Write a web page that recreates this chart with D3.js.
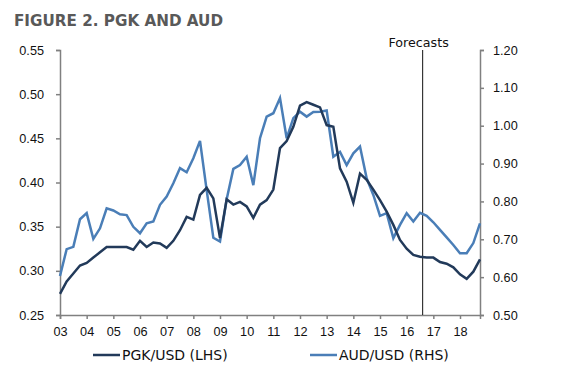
<!DOCTYPE html>
<html>
<head>
<meta charset="utf-8">
<script src="https://cdn.jsdelivr.net/npm/d3@7"></script>
<style>
  body { margin: 0; background: #fff; }
  svg { font-family: "DejaVu Sans", Verdana, sans-serif; }
  .axis path, .axis line { stroke: #808080; stroke-width: 1.5; }
  .axis text { fill: #111; font-size: 12.7px; }
</style>
</head>
<body>
<div id="chart"></div>
<script>
// quarterly data, 2003Q1 .. 2018Q4
var years = [2003, 2004, 2005, 2006, 2007, 2008, 2009, 2010, 2011, 2012, 2013, 2014, 2015, 2016, 2017, 2018];
var yearLabels = ["03", "04", "05", "06", "07", "08", "09", "10", "11", "12", "13", "14", "15", "16", "17", "18"];

var pgkUsd = [
  0.274, 0.288, 0.297, 0.306, 0.309, 0.315, 0.321, 0.327,
  0.327, 0.327, 0.327, 0.324, 0.334, 0.327, 0.332, 0.331,
  0.326, 0.334, 0.346, 0.361, 0.358, 0.386, 0.394, 0.382,
  0.337, 0.381, 0.375, 0.378, 0.373, 0.360, 0.375, 0.380,
  0.392, 0.439, 0.447, 0.463, 0.487, 0.491, 0.488, 0.485,
  0.465, 0.463, 0.416, 0.401, 0.377, 0.410, 0.403, 0.392,
  0.380, 0.367, 0.352, 0.335, 0.325, 0.318, 0.316, 0.315,
  0.315, 0.310, 0.308, 0.304, 0.296, 0.291, 0.299, 0.313
];
var audUsd = [
  0.603, 0.674, 0.680, 0.753, 0.769, 0.701, 0.729, 0.782,
  0.776, 0.766, 0.764, 0.733, 0.716, 0.742, 0.747, 0.791,
  0.813, 0.848, 0.888, 0.877, 0.914, 0.960, 0.830, 0.704,
  0.694, 0.806, 0.886, 0.896, 0.918, 0.843, 0.967, 1.024,
  1.033, 1.073, 0.967, 1.020, 1.037, 1.024, 1.036, 1.037,
  1.040, 0.918, 0.931, 0.896, 0.927, 0.945, 0.861, 0.817,
  0.762, 0.769, 0.703, 0.738, 0.769, 0.747, 0.770, 0.762,
  0.745, 0.725, 0.705, 0.685, 0.663, 0.663, 0.690, 0.742
];
var leftTicks = [0.25, 0.30, 0.35, 0.40, 0.45, 0.50, 0.55];
var rightTicks = [0.50, 0.60, 0.70, 0.80, 0.90, 1.00, 1.10, 1.20];
var forecastStart = 2016.6;

var W = 563, H = 372;
var margin = {top: 50, right: 83, bottom: 57, left: 60};

var quarters = [];
years.forEach(function (y) {
  for (var q = 0; q < 4; q++) quarters.push(y + q / 4);
});

var svg = d3.select("#chart").append("svg")
  .attr("width", W)
  .attr("height", H);

var x = d3.scaleLinear()
  .domain([years[0], quarters[quarters.length - 1]])
  .range([margin.left, W - margin.right]);
var yL = d3.scaleLinear()
  .domain([0.25, 0.55])
  .range([H - margin.bottom, margin.top]);
var yR = d3.scaleLinear()
  .domain([0.5, 1.2])
  .range([H - margin.bottom, margin.top]);

// title
svg.append("text")
  .attr("x", 14)
  .attr("y", 26)
  .attr("fill", "#595959")
  .style("font-size", "15.2px")
  .style("font-weight", "bold")
  .text("FIGURE 2. PGK AND AUD");

// axes
svg.append("g").attr("class", "axis")
  .attr("transform", "translate(" + margin.left + ",0)")
  .call(d3.axisLeft(yL).tickValues(leftTicks).tickFormat(d3.format(".2f")).tickSize(4).tickPadding(12));

svg.append("g").attr("class", "axis")
  .attr("transform", "translate(" + (W - margin.right) + ",0)")
  .call(d3.axisRight(yR).tickValues(rightTicks).tickFormat(d3.format(".2f")).tickSize(4).tickPadding(9));

svg.append("g").attr("class", "axis")
  .attr("transform", "translate(0," + (H - margin.bottom) + ")")
  .call(d3.axisBottom(x).tickValues(years).tickFormat(function (d, i) { return yearLabels[i]; }).tickSize(4).tickPadding(8));

// forecast marker
svg.append("line")
  .attr("x1", x(forecastStart)).attr("x2", x(forecastStart))
  .attr("y1", margin.top).attr("y2", H - margin.bottom)
  .attr("stroke", "#111")
  .attr("stroke-width", 1);

svg.append("text")
  .attr("x", x(forecastStart) - 4)
  .attr("y", 47)
  .attr("text-anchor", "middle")
  .attr("fill", "#111")
  .style("font-size", "12.7px")
  .text("Forecasts");

// lines
var pgkLine = d3.line()
  .x(function (d, i) { return x(quarters[i]); })
  .y(function (d) { return yL(d); });
var audLine = d3.line()
  .x(function (d, i) { return x(quarters[i]); })
  .y(function (d) { return yR(d); });

svg.append("path")
  .datum(audUsd)
  .attr("d", audLine)
  .attr("fill", "none")
  .attr("stroke", "#4a7eb7")
  .attr("stroke-width", 2.5);

svg.append("path")
  .datum(pgkUsd)
  .attr("d", pgkLine)
  .attr("fill", "none")
  .attr("stroke", "#223a5a")
  .attr("stroke-width", 2.5);

// legend
var legend = [
  {label: "PGK/USD (LHS)", color: "#223a5a", x: 93},
  {label: "AUD/USD (RHS)", color: "#4a7eb7", x: 310}
];
var lg = svg.selectAll(".lg").data(legend).enter().append("g")
  .attr("transform", function (d) { return "translate(" + d.x + ",355)"; });
lg.append("line")
  .attr("x1", 0).attr("x2", 27)
  .attr("stroke", function (d) { return d.color; })
  .attr("stroke-width", 2.5);
lg.append("text")
  .attr("x", 29)
  .attr("dy", "0.35em")
  .attr("fill", "#111")
  .style("font-size", "14px")
  .text(function (d) { return d.label; });
</script>
</body>
</html>
